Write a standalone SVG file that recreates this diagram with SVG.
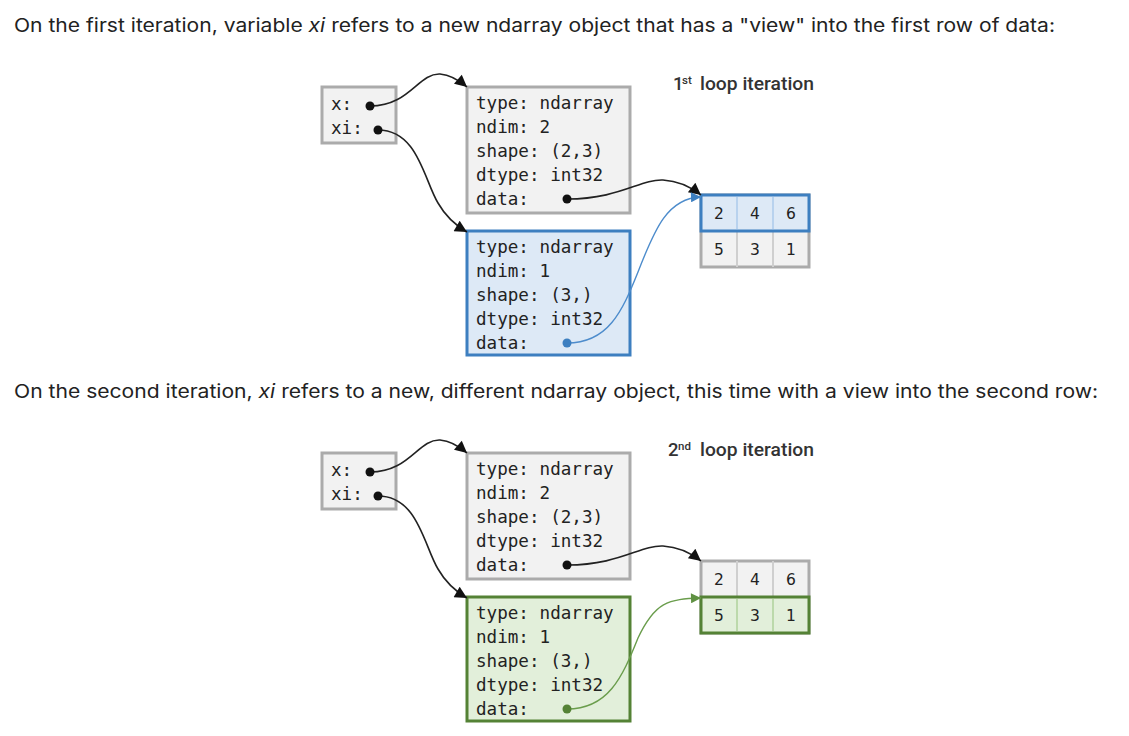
<svg xmlns="http://www.w3.org/2000/svg" width="1129" height="736" viewBox="0 0 1129 736">
<defs>
<style>
.para{font-family:Inter,"Noto Sans",sans-serif;font-size:18.5px;fill:#222}
.mono{font-family:"DejaVu Sans Mono","Liberation Mono",monospace;font-size:17.6px;fill:#222}
.num{font-family:"DejaVu Sans","Liberation Sans",sans-serif;font-size:15.5px;fill:#222;text-anchor:middle}
.lbl{font-family:Roboto,"Liberation Sans",sans-serif;font-weight:500;font-size:18.5px;fill:#333}
.sup{font-family:Roboto,"Liberation Sans",sans-serif;font-weight:500;font-size:11.5px;fill:#333}
.gbox{fill:#f2f2f2;stroke:#ababab;stroke-width:3}
.bbox{fill:#dde9f6;stroke:#3d7fc0;stroke-width:3}
.grbox{fill:#e2efda;stroke:#548235;stroke-width:3}
.blk{fill:none;stroke:#222;stroke-width:1.6}
.blu{fill:none;stroke:#4d8ccc;stroke-width:1.4}
.grn{fill:none;stroke:#6a9d4c;stroke-width:1.4}
.div{stroke:#cfcfcf;stroke-width:2}
.bdiv{stroke:#b8d2ee;stroke-width:2}
.gdiv{stroke:#bcd9ab;stroke-width:2}
</style>
<marker id="ah" viewBox="0 0 10 10" refX="10" refY="5" markerWidth="16" markerHeight="12" markerUnits="userSpaceOnUse" orient="auto"><path d="M0,0 L10,5 L0,10 z" fill="#111"/></marker>
<marker id="ahb" viewBox="0 0 10 10" refX="10" refY="5" markerWidth="14" markerHeight="10" markerUnits="userSpaceOnUse" orient="auto"><path d="M0,0 L10,5 L0,10 z" fill="#3d7fc0"/></marker>
<marker id="ahg" viewBox="0 0 10 10" refX="10" refY="5" markerWidth="14" markerHeight="10" markerUnits="userSpaceOnUse" orient="auto"><path d="M0,0 L10,5 L0,10 z" fill="#5f9142"/></marker>
</defs>
<rect width="1129" height="736" fill="#fff"/>

<text class="para" x="14" y="32" textLength="1041" lengthAdjust="spacingAndGlyphs">On the first iteration, variable <tspan font-style="italic">xi</tspan> refers to a new ndarray object that has a "view" into the first row of data:</text>
<text class="para" x="14" y="398" textLength="1084" lengthAdjust="spacingAndGlyphs">On the second iteration, <tspan font-style="italic">xi</tspan> refers to a new, different ndarray object, this time with a view into the second row:</text>

<!-- Diagram 1 -->
<g id="d1">
<g id="d1-label">
<text class="lbl" x="673" y="90">1</text>
<text class="sup" x="682" y="84">st</text>
<text class="lbl" x="700" y="90" textLength="114" lengthAdjust="spacingAndGlyphs">loop iteration</text>
</g>
<g id="d1-vars">
<rect class="gbox" x="322" y="87" width="74" height="56"/>
<text class="mono" x="331" y="110">x:</text>
<text class="mono" x="331" y="134">xi:</text>
</g>
<g id="d1-arr2d">
<rect class="gbox" x="467" y="87" width="163" height="126"/>
<text class="mono" x="476" y="109">type: ndarray</text>
<text class="mono" x="476" y="133">ndim: 2</text>
<text class="mono" x="476" y="157">shape: (2,3)</text>
<text class="mono" x="476" y="181">dtype: int32</text>
<text class="mono" x="476" y="205">data:</text>
</g>
<g id="d1-view">
<rect class="bbox" x="467" y="231" width="163" height="124"/>
<text class="mono" x="476" y="253">type: ndarray</text>
<text class="mono" x="476" y="277">ndim: 1</text>
<text class="mono" x="476" y="301">shape: (3,)</text>
<text class="mono" x="476" y="325">dtype: int32</text>
<text class="mono" x="476" y="349">data:</text>
</g>
<g id="d1-data">
<rect class="gbox" x="701" y="195" width="108" height="72"/>
<line class="div" x1="737" y1="231" x2="737" y2="267"/>
<line class="div" x1="773" y1="231" x2="773" y2="267"/>
<rect class="bbox" x="701" y="195" width="108" height="36"/>
<line class="bdiv" x1="737" y1="197" x2="737" y2="229"/>
<line class="bdiv" x1="773" y1="197" x2="773" y2="229"/>
<text class="num" x="719" y="219">2</text>
<text class="num" x="755" y="219">4</text>
<text class="num" x="791" y="219">6</text>
<text class="num" x="719" y="255">5</text>
<text class="num" x="755" y="255">3</text>
<text class="num" x="791" y="255">1</text>
</g>
<g id="d1-connectors">
<path class="blk" d="M370,106 C410,106 418,73 440,74 C452,75 460,81 467,87" marker-end="url(#ah)"/>
<path class="blk" d="M378,130 C418,130 424,180 438,203 C446,217 455,225 467,232" marker-end="url(#ah)"/>
<path class="blk" d="M567,199 C620,199 640,179 663,180 C680,181 691,187 701,195" marker-end="url(#ah)"/>
<path class="blu" d="M567,343 C608,343 622,312 638,272 C655,228 668,198 701,197" marker-end="url(#ahb)"/>
<circle cx="370" cy="106" r="4.5" fill="#111"/>
<circle cx="378" cy="130" r="4.5" fill="#111"/>
<circle cx="567" cy="199" r="4.5" fill="#111"/>
<circle cx="567" cy="343" r="4.5" fill="#3d7fc0"/>
</g>
</g>

<!-- Diagram 2 -->
<g id="d2" transform="translate(0,366)">
<g id="d2-label">
<text class="lbl" x="668" y="90">2</text>
<text class="sup" x="678" y="84">nd</text>
<text class="lbl" x="700" y="90" textLength="114" lengthAdjust="spacingAndGlyphs">loop iteration</text>
</g>
<g id="d2-vars">
<rect class="gbox" x="322" y="87" width="74" height="56"/>
<text class="mono" x="331" y="110">x:</text>
<text class="mono" x="331" y="134">xi:</text>
</g>
<g id="d2-arr2d">
<rect class="gbox" x="467" y="87" width="163" height="126"/>
<text class="mono" x="476" y="109">type: ndarray</text>
<text class="mono" x="476" y="133">ndim: 2</text>
<text class="mono" x="476" y="157">shape: (2,3)</text>
<text class="mono" x="476" y="181">dtype: int32</text>
<text class="mono" x="476" y="205">data:</text>
</g>
<g id="d2-view">
<rect class="grbox" x="467" y="231" width="163" height="124"/>
<text class="mono" x="476" y="253">type: ndarray</text>
<text class="mono" x="476" y="277">ndim: 1</text>
<text class="mono" x="476" y="301">shape: (3,)</text>
<text class="mono" x="476" y="325">dtype: int32</text>
<text class="mono" x="476" y="349">data:</text>
</g>
<g id="d2-data">
<rect class="gbox" x="701" y="195" width="108" height="72"/>
<line class="div" x1="737" y1="195" x2="737" y2="231"/>
<line class="div" x1="773" y1="195" x2="773" y2="231"/>
<rect class="grbox" x="701" y="231" width="108" height="36"/>
<line class="gdiv" x1="737" y1="233" x2="737" y2="265"/>
<line class="gdiv" x1="773" y1="233" x2="773" y2="265"/>
<text class="num" x="719" y="219">2</text>
<text class="num" x="755" y="219">4</text>
<text class="num" x="791" y="219">6</text>
<text class="num" x="719" y="255">5</text>
<text class="num" x="755" y="255">3</text>
<text class="num" x="791" y="255">1</text>
</g>
<g id="d2-connectors">
<path class="blk" d="M370,106 C410,106 418,73 440,74 C452,75 460,81 467,87" marker-end="url(#ah)"/>
<path class="blk" d="M378,130 C418,130 424,180 438,203 C446,217 455,225 467,232" marker-end="url(#ah)"/>
<path class="blk" d="M567,199 C620,199 640,179 663,180 C680,181 691,187 701,195" marker-end="url(#ah)"/>
<path class="grn" d="M567,343 C608,343 622,312 638,272 C655,236 668,233 701,232" marker-end="url(#ahg)"/>
<circle cx="370" cy="106" r="4.5" fill="#111"/>
<circle cx="378" cy="130" r="4.5" fill="#111"/>
<circle cx="567" cy="199" r="4.5" fill="#111"/>
<circle cx="567" cy="343" r="4.5" fill="#548235"/>
</g>
</g>
</svg>
